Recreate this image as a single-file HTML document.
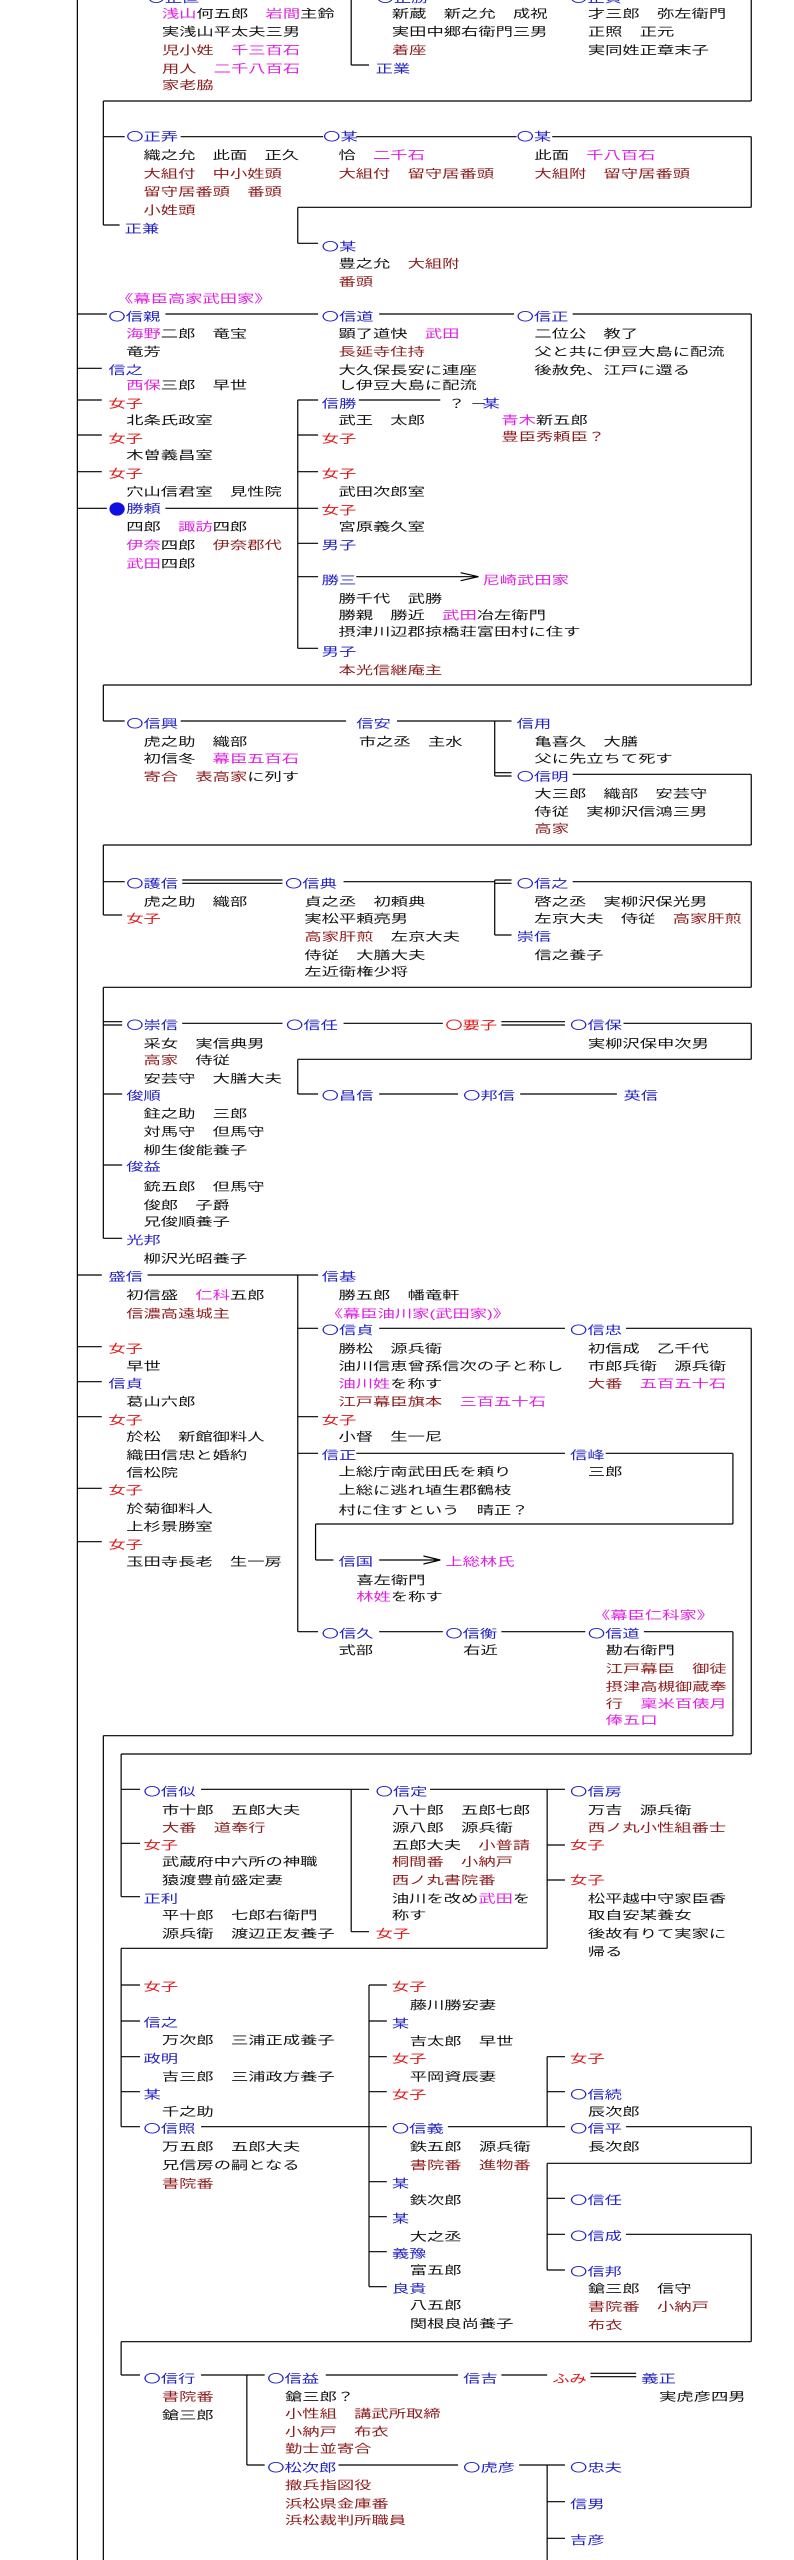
<!DOCTYPE html>
<html><head><meta charset="utf-8"><style>
html,body{margin:0;padding:0;background:#fff;}
svg{display:block;}
text{font-family:"Liberation Sans","Noto Sans CJK JP",sans-serif;font-size:34px;fill:#111;}
.b{fill:#2222c4}.r{fill:#e01414}.d{fill:#8c1c1c}.m{fill:#e020e0}
path{fill:none;stroke:#000;stroke-width:1.2;vector-effect:non-scaling-stroke}
</style></head><body>
<svg width="794" height="2560" viewBox="0 0 1560 7680" preserveAspectRatio="none" xmlns="http://www.w3.org/2000/svg">
<path d="
M152 0V7680
M690 0V195 M1476 0V303 M1476 410V622 M1476 942V2055 M1476 2323V2535 M1476 2645V2962 M1476 3070V3178 M1476 3985V5262 M1476 6380V6490 M1476 6703V7025
M203 303V675 M203 2055V2163 M203 2535V2745 M203 2962V3715 M203 5207V7680
M585 622V730 M585 1200V1945 M585 3178V3282 M585 3825V4895
M972 2163V2328 M972 2640V2805
M1440 4360V4572 M1440 4895V5207 M620 4572V4680
M238 5262V5690 M238 5845V6380 M238 7025V7125
M690 5368V5795 M1075 5368V5845 M1075 6170V6380 M1075 6490V6810 M1075 7395V7680
M725 5955V6860 M485 7125V7395
M690 195H725 M203 303H1476 M203 410H245 M355 410H635 M700 410H1015 M1085 410H1476 M585 622H1476
M203 675H235 M585 730H625 M152 942H210 M325 942H625 M745 942H1010 M1125 942H1476 M152 1105H200 M152 1200H200 M585 1200H625 M705 1200H865
M152 1305H200 M585 1305H625 M152 1415H200 M585 1415H625 M152 1525H210 M325 1525H625 M585 1630H625 M585 1730H625 M700 1730H940 M905 1718L940 1730L905 1742 M585 1945H625
M203 2055H1476 M203 2163H245 M355 2163H680 M780 2163H1005 M972 2318H1005 M972 2328H1005 M1125 2323H1476 M203 2535H1476
M203 2645H245 M358 2640H555 M358 2650H555 M675 2645H972 M972 2640H1005 M972 2650H1005 M1125 2645H1476 M203 2745H240 M972 2805H1005 M203 2962H1476
M203 3065H240 M203 3075H240 M358 3070H555 M675 3070H870 M985 3065H1110 M985 3075H1110 M1225 3070H1476 M585 3178H1476
M585 3282H625 M745 3282H900 M1022 3282H1212 M203 3282H240 M203 3495H240 M203 3715H240 M152 3825H200 M290 3825H625
M585 3985H625 M745 3985H1110 M1230 3985H1476 M152 4040H200 M152 4145H200 M152 4250H200 M585 4250H625 M585 4360H625 M700 4360H1110 M1190 4360H1440 M152 4465H200
M620 4572H1440 M152 4625H200 M620 4680H655 M745 4680H865 M832 4668L865 4680L832 4692 M585 4895H625 M745 4895H870 M985 4895H1150 M1265 4895H1440
M203 5207H1440 M238 5262H1476 M238 5368H275 M395 5368H725 M845 5368H1110 M238 5530H275 M1075 5535H1110 M1075 5640H1110 M238 5690H275 M690 5795H725
M238 5845H1075 M238 5955H275 M725 5955H760 M238 6063H275 M725 6063H760 M238 6170H275 M725 6170H760 M1075 6170H1110 M238 6275H275 M725 6275H760 M1075 6275H1110 M238 6380H275 M395 6380H760 M880 6380H1110 M1230 6380H1476
M1075 6490H1476 M725 6545H760 M1075 6595H1110 M725 6650H760 M1075 6703H1110 M1230 6703H1476 M725 6755H760 M1075 6810H1110 M725 6860H760 M238 7025H1476
M238 7125H275 M395 7125H520 M640 7125H900 M985 7125H1075 M1160 7120H1250 M1160 7130H1250 M485 7395H520 M665 7395H900 M1020 7395H1110 M1075 7505H1110 M1075 7615H1110
"/>
<ellipse cx="230" cy="1527" rx="15" ry="20" fill="#1010e0"/>
<text x="290" y="6" class="b">〇正直</text><text x="740" y="6" class="b">〇正勝</text><text x="1120" y="6" class="b">〇正貞</text>
<text x="318" y="52"><tspan class="m">浅山</tspan>何五郎　<tspan class="m">岩間</tspan>主鈴</text>
<text x="318" y="107">実浅山平太夫三男</text>
<text x="318" y="162"><tspan class="d">児小姓</tspan>　<tspan class="m">千三百石</tspan></text>
<text x="318" y="217"><tspan class="d">用人</tspan>　<tspan class="m">二千八百石</tspan></text>
<text x="318" y="267" class="d">家老脇</text>
<text x="738" y="217" class="b">正業</text>
<text x="770" y="52">新蔵　新之允　成祝</text>
<text x="770" y="107">実田中郷右衛門三男</text>
<text x="770" y="162" class="d">着座</text>
<text x="1155" y="52">才三郎　弥左衛門</text>
<text x="1155" y="107">正照　正元</text>
<text x="1155" y="162">実同姓正章末子</text>
<text x="248" y="422" class="b">〇正弄</text><text x="635" y="422" class="b">〇某</text><text x="1015" y="422" class="b">〇某</text>
<text x="282" y="477">織之允　此面　正久</text>
<text x="282" y="532" class="d">大組付　中小姓頭</text>
<text x="282" y="587" class="d">留守居番頭　番頭</text>
<text x="282" y="642" class="d">小姓頭</text>
<text x="665" y="477">恰　<tspan class="m">二千石</tspan></text>
<text x="665" y="532" class="d">大組付　留守居番頭</text>
<text x="1050" y="477">此面　<tspan class="m">千八百石</tspan></text>
<text x="1050" y="532" class="d">大組附　留守居番頭</text>
<text x="245" y="697" class="b">正兼</text>
<text x="632" y="752" class="b">〇某</text>
<text x="665" y="802">豊之允　<tspan class="d">大組附</tspan></text>
<text x="665" y="857" class="d">番頭</text>
<text x="228" y="907" class="m">《幕臣高家武田家》</text>
<text x="213" y="962" class="b">〇信親</text><text x="632" y="962" class="b">〇信道</text><text x="1015" y="962" class="b">〇信正</text>
<text x="248" y="1012"><tspan class="m">海野</tspan>二郎　竜宝</text>
<text x="248" y="1067">竜芳</text>
<text x="213" y="1122" class="b">信之</text>
<text x="248" y="1167"><tspan class="m">西保</tspan>三郎　早世</text>
<text x="213" y="1222" class="r">女子</text>
<text x="248" y="1272">北条氏政室</text>
<text x="665" y="1012">顕了道快　<tspan class="m">武田</tspan></text>
<text x="665" y="1067" class="d">長延寺住持</text>
<text x="665" y="1122">大久保長安に連座</text>
<text x="665" y="1167">し伊豆大島に配流</text>
<text x="1050" y="1012">二位公　教了</text>
<text x="1050" y="1067">父と共に伊豆大島に配流</text>
<text x="1050" y="1122">後赦免、江戸に還る</text>
<text x="632" y="1222" class="b">信勝</text>
<text x="880" y="1222">？ －</text><text x="948" y="1222" class="b">某</text>
<text x="665" y="1272">武王　太郎</text>
<text x="985" y="1272"><tspan class="m">青木</tspan>新五郎</text>
<text x="985" y="1322" class="d">豊臣秀頼臣？</text>
<text x="213" y="1327" class="r">女子</text><text x="632" y="1327" class="r">女子</text>
<text x="248" y="1377">木曽義昌室</text>
<text x="213" y="1432" class="r">女子</text><text x="632" y="1432" class="r">女子</text>
<text x="248" y="1487">穴山信君室　見性院</text>
<text x="665" y="1487">武田次郎室</text>
<text x="248" y="1537" class="b">勝頼</text>
<text x="632" y="1542" class="r">女子</text>
<text x="248" y="1592">四郎　<tspan class="m">諏訪</tspan>四郎</text>
<text x="248" y="1647"><tspan class="m">伊奈</tspan>四郎　<tspan class="d">伊奈郡代</tspan></text>
<text x="248" y="1702"><tspan class="m">武田</tspan>四郎</text>
<text x="665" y="1592">宮原義久室</text>
<text x="632" y="1647" class="b">男子</text>
<text x="632" y="1752" class="b">勝三</text>
<text x="948" y="1752" class="m">尼崎武田家</text>
<text x="665" y="1807">勝千代　武勝</text>
<text x="665" y="1857">勝親　勝近　<tspan class="m">武田</tspan>冶左衛門</text>
<text x="665" y="1907">摂津川辺郡掠橋荘富田村に住す</text>
<text x="632" y="1967" class="b">男子</text>
<text x="665" y="2022" class="d">本光信継庵主</text>
<text x="248" y="2182" class="b">〇信興</text><text x="700" y="2182" class="b">信安</text><text x="1015" y="2182" class="b">信用</text>
<text x="282" y="2237">虎之助　織部</text>
<text x="282" y="2287">初信冬　<tspan class="m">幕臣五百石</tspan></text>
<text x="282" y="2342"><tspan class="d">寄合</tspan>　<tspan class="d">表高家</tspan>に列す</text>
<text x="705" y="2237">市之丞　主水</text>
<text x="1050" y="2237">亀喜久　大膳</text>
<text x="1050" y="2287">父に先立ちて死す</text>
<text x="1015" y="2342" class="b">〇信明</text>
<text x="1050" y="2392">大三郎　織部　安芸守</text>
<text x="1050" y="2447">侍従　実柳沢信鴻三男</text>
<text x="1050" y="2497" class="d">高家</text>
<text x="248" y="2662" class="b">〇護信</text><text x="560" y="2662" class="b">〇信典</text><text x="1015" y="2662" class="b">〇信之</text>
<text x="282" y="2717">虎之助　織部</text>
<text x="248" y="2767" class="r">女子</text>
<text x="598" y="2717">貞之丞　初頼典</text>
<text x="598" y="2767">実松平頼亮男</text>
<text x="598" y="2822"><tspan class="d">高家肝煎</tspan>　左京大夫</text>
<text x="598" y="2877">侍従　大膳大夫</text>
<text x="598" y="2927">左近衛権少将</text>
<text x="1050" y="2717">啓之丞　実柳沢保光男</text>
<text x="1050" y="2767">左京大夫　侍従　<tspan class="d">高家肝煎</tspan></text>
<text x="1015" y="2822" class="b">崇信</text>
<text x="1050" y="2877">信之養子</text>
<text x="248" y="3087" class="b">〇崇信</text><text x="562" y="3087" class="b">〇信任</text><text x="875" y="3087" class="r">〇要子</text><text x="1120" y="3087" class="b">〇信保</text>
<text x="1155" y="3142">実柳沢保申次男</text>
<text x="282" y="3142">采女　実信典男</text>
<text x="282" y="3192"><tspan class="d">高家</tspan>　侍従</text>
<text x="282" y="3247">安芸守　大膳大夫</text>
<text x="632" y="3299" class="b">〇昌信</text><text x="910" y="3299" class="b">〇邦信</text><text x="1225" y="3299" class="b">英信</text>
<text x="248" y="3299" class="b">俊順</text>
<text x="282" y="3352">鉒之助　三郎</text>
<text x="282" y="3407">対馬守　但馬守</text>
<text x="282" y="3462">柳生俊能養子</text>
<text x="248" y="3512" class="b">俊益</text>
<text x="282" y="3572">銃五郎　但馬守</text>
<text x="282" y="3627">俊郎　子爵</text>
<text x="282" y="3677">兄俊順養子</text>
<text x="248" y="3732" class="b">光邦</text>
<text x="282" y="3787">柳沢光昭養子</text>
<text x="213" y="3842" class="b">盛信</text><text x="632" y="3842" class="b">信基</text>
<text x="248" y="3897">初信盛　<tspan class="m">仁科</tspan>五郎</text>
<text x="248" y="3952" class="d">信濃高遠城主</text>
<text x="665" y="3897">勝五郎　幡竜軒</text>
<text x="640" y="3952" class="m">《幕臣油川家(武田家)》</text>
<text x="632" y="4002" class="b">〇信貞</text><text x="1120" y="4002" class="b">〇信忠</text>
<text x="665" y="4057">勝松　源兵衛</text>
<text x="665" y="4110">油川信恵曾孫信次の子と称し</text>
<text x="665" y="4162"><tspan class="m">油川姓</tspan>を称す</text>
<text x="665" y="4217"><tspan class="d">江戸幕臣旗本</tspan>　<tspan class="m">三百五十石</tspan></text>
<text x="1155" y="4057">初信成　乙千代</text>
<text x="1155" y="4110">市郎兵衛　源兵衛</text>
<text x="1155" y="4162"><tspan class="d">大番</tspan>　<tspan class="m">五百五十石</tspan></text>
<text x="632" y="4272" class="r">女子</text>
<text x="665" y="4322">小督　生一尼</text>
<text x="632" y="4377" class="b">信正</text><text x="1120" y="4377" class="b">信峰</text>
<text x="665" y="4427">上総庁南武田氏を頼り</text>
<text x="665" y="4482">上総に逃れ埴生郡鶴枝</text>
<text x="665" y="4542">村に住すという　晴正？</text>
<text x="1155" y="4427">三郎</text>
<text x="213" y="4057" class="r">女子</text>
<text x="248" y="4110">早世</text>
<text x="213" y="4162" class="b">信貞</text>
<text x="248" y="4217">葛山六郎</text>
<text x="213" y="4272" class="r">女子</text>
<text x="248" y="4322">於松　新館御料人</text>
<text x="248" y="4377">織田信忠と婚約</text>
<text x="248" y="4430">信松院</text>
<text x="213" y="4482" class="r">女子</text>
<text x="248" y="4537">於菊御料人</text>
<text x="248" y="4592">上杉景勝室</text>
<text x="213" y="4645" class="r">女子</text>
<text x="248" y="4697">玉田寺長老　生一房</text>
<text x="665" y="4697" class="b">信国</text>
<text x="875" y="4697" class="m">上総林氏</text>
<text x="700" y="4752">喜左衛門</text>
<text x="700" y="4802"><tspan class="m">林姓</tspan>を称す</text>
<text x="1165" y="4857" class="m">《幕臣仁科家》</text>
<text x="632" y="4912" class="b">〇信久</text><text x="875" y="4912" class="b">〇信衡</text><text x="1155" y="4912" class="b">〇信道</text>
<text x="665" y="4962">式部</text><text x="910" y="4962">右近</text>
<text x="1190" y="4962">勘右衛門</text>
<text x="1190" y="5017" class="d">江戸幕臣　御徒</text>
<text x="1190" y="5072" class="d">摂津高槻御蔵奉</text>
<text x="1190" y="5122"><tspan class="d">行</tspan>　<tspan class="m">稟米百俵月</tspan></text>
<text x="1190" y="5172" class="m">俸五口</text>
<text x="282" y="5387" class="b">〇信似</text><text x="738" y="5387" class="b">〇信定</text><text x="1120" y="5387" class="b">〇信房</text>
<text x="318" y="5442">市十郎　五郎大夫</text>
<text x="318" y="5494" class="d">大番　道奉行</text>
<text x="282" y="5547" class="r">女子</text>
<text x="318" y="5597">武蔵府中六所の神職</text>
<text x="318" y="5652">猿渡豊前盛定妻</text>
<text x="282" y="5707" class="b">正利</text>
<text x="318" y="5757">平十郎　七郎右衛門</text>
<text x="318" y="5812">源兵衛　渡辺正友養子</text>
<text x="770" y="5442">八十郎　五郎七郎</text>
<text x="770" y="5494">源八郎　源兵衛</text>
<text x="770" y="5547">五郎大夫　<tspan class="d">小普請</tspan></text>
<text x="770" y="5597" class="d">桐間番　小納戸</text>
<text x="770" y="5652" class="d">西ノ丸書院番</text>
<text x="770" y="5707">油川を改め<tspan class="m">武田</tspan>を</text>
<text x="770" y="5757">称す</text>
<text x="738" y="5812" class="r">女子</text>
<text x="1155" y="5442">万吉　源兵衛</text>
<text x="1155" y="5494" class="d">西ノ丸小性組番士</text>
<text x="1120" y="5547" class="r">女子</text>
<text x="1120" y="5652" class="r">女子</text>
<text x="1155" y="5707">松平越中守家臣香</text>
<text x="1155" y="5757">取自安某養女</text>
<text x="1155" y="5812">後故有りて実家に</text>
<text x="1155" y="5867">帰る</text>
<text x="282" y="5972" class="r">女子</text>
<text x="282" y="6079" class="b">信之</text>
<text x="318" y="6132">万次郎　三浦正成養子</text>
<text x="282" y="6187" class="b">政明</text>
<text x="318" y="6242">吉三郎　三浦政方養子</text>
<text x="282" y="6295" class="b">某</text>
<text x="318" y="6347">千之助</text>
<text x="282" y="6397" class="b">〇信照</text><text x="770" y="6397" class="b">〇信義</text><text x="1120" y="6397" class="b">〇信平</text>
<text x="770" y="5972" class="r">女子</text>
<text x="805" y="6027">藤川勝安妻</text>
<text x="770" y="6082" class="b">某</text>
<text x="805" y="6135">吉太郎　早世</text>
<text x="770" y="6187" class="r">女子</text>
<text x="805" y="6242">平岡資辰妻</text>
<text x="770" y="6295" class="r">女子</text>
<text x="1120" y="6187" class="r">女子</text>
<text x="1120" y="6295" class="b">〇信続</text>
<text x="1155" y="6347">辰次郎</text>
<text x="1155" y="6452">長次郎</text>
<text x="318" y="6452">万五郎　五郎大夫</text>
<text x="805" y="6452">鉄五郎　源兵衛</text>
<text x="318" y="6507">兄信房の嗣となる</text>
<text x="318" y="6562" class="d">書院番</text>
<text x="805" y="6507" class="d">書院番　進物番</text>
<text x="770" y="6562" class="b">某</text>
<text x="805" y="6612">鉄次郎</text>
<text x="770" y="6667" class="b">某</text>
<text x="805" y="6722">大之丞</text>
<text x="770" y="6772" class="b">義豫</text>
<text x="805" y="6822">富五郎</text>
<text x="770" y="6877" class="b">良貴</text>
<text x="805" y="6927">八五郎</text>
<text x="805" y="6982">関根良尚養子</text>
<text x="1120" y="6612" class="b">〇信任</text>
<text x="1120" y="6720" class="b">〇信成</text>
<text x="1120" y="6827" class="b">〇信邦</text>
<text x="1155" y="6877">鎗三郎　信守</text>
<text x="1155" y="6932" class="d">書院番　小納戸</text>
<text x="1155" y="6987" class="d">布衣</text>
<text x="282" y="7147" class="b">〇信行</text><text x="525" y="7147" class="b">〇信益</text><text x="910" y="7147" class="b">信吉</text><text x="1085" y="7147" class="r">ふみ</text><text x="1260" y="7147" class="b">義正</text>
<text x="1295" y="7202">実虎彦四男</text>
<text x="318" y="7202" class="d">書院番</text>
<text x="318" y="7257">鎗三郎</text>
<text x="560" y="7202">鎗三郎？</text>
<text x="560" y="7252" class="d">小性組　講武所取締</text>
<text x="560" y="7307" class="d">小納戸　布衣</text>
<text x="560" y="7357" class="d">勤士並寄合</text>
<text x="525" y="7414" class="b">〇松次郎</text><text x="910" y="7414" class="b">〇虎彦</text><text x="1120" y="7414" class="b">〇忠夫</text>
<text x="560" y="7467" class="d">撤兵指図役</text>
<text x="560" y="7522" class="d">浜松県金庫番</text>
<text x="560" y="7572" class="d">浜松裁判所職員</text>
<text x="1120" y="7524" class="b">信男</text>
<text x="1120" y="7632" class="b">吉彦</text>
</svg>
</body></html>
